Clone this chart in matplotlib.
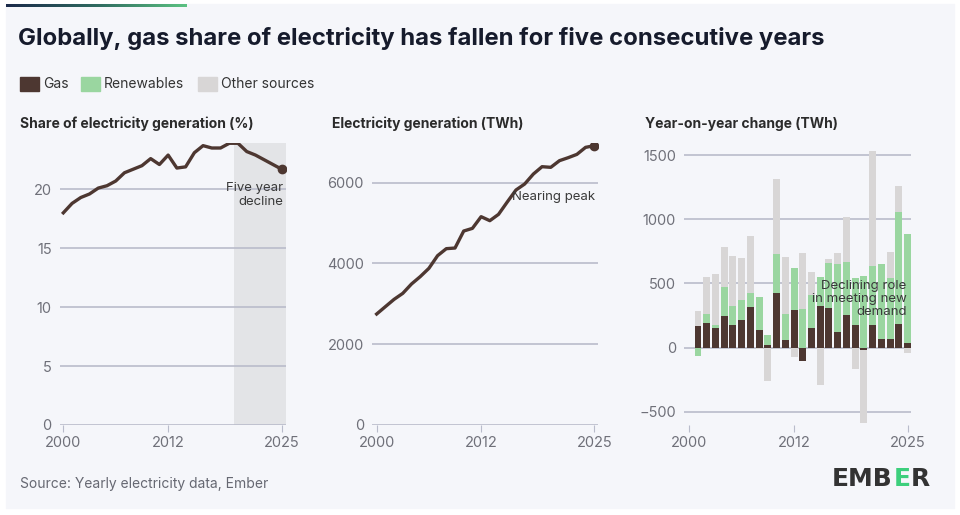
import matplotlib.pyplot as plt
from matplotlib.patches import Rectangle
from matplotlib.colors import LinearSegmentedColormap
import numpy as np

plt.rcParams['font.family'] = ['Inter', 'DejaVu Sans']

# share of electricity from gas (%), 2000-2025
share_years = list(range(2000, 2026))
gas_share = [18.0, 18.8, 19.3, 19.6, 20.1, 20.3, 20.7, 21.4, 21.7, 22.0, 22.6, 22.1,
             22.9, 21.8, 21.9, 23.1, 23.7, 23.5, 23.5, 23.9, 23.9, 23.2, 22.9, 22.5,
             22.1, 21.7]

# gas generation (TWh)
gas_twh = [2748, 2930, 3111, 3260, 3491, 3673, 3879, 4193, 4366, 4382, 4803, 4869,
           5158, 5059, 5216, 5521, 5818, 5967, 6214, 6396, 6380, 6545, 6619, 6701,
           6875, 6916]

# year-on-year change (TWh), 2001-2025
yoy_years = list(range(2001, 2026))
yoy_gas = [168, 189, 150, 246, 176, 217, 315, 140, 21, 424, 57, 295, -101, 155, 323,
           308, 119, 251, 174, -16, 173, 70, 70, 181, 39]
yoy_renew = [-65, 77, 26, 230, 150, 153, 109, 258, 80, 308, 204, 323, 300, 259, 228,
             349, 530, 414, 370, 560, 461, 584, 471, 879, 845]
yoy_other = [117, 282, 401, 308, 390, 331, 447, -8, -259, 584, 445, -75, 440, 178, -292,
             36, 88, 354, -163, -574, 897, 0, 204, 202, -41]

xticks = [2000, 2012, 2025]

GAS = '#4d3731'
RENEW = '#9ad6a0'
OTHER = '#d8d6d6'
BG = '#f5f6fa'
GRID = '#b9bccb'
TICK = '#6f7079'
DARK = '#161b2c'

W, H = 960, 515
fig = plt.figure(figsize=(W / 100, H / 100), dpi=100)
fig.patch.set_facecolor('white')

# card background and top accent bar
fig.patches.append(Rectangle((6 / W, 1 - 508 / H), 948 / W, 504 / H,
                             transform=fig.transFigure, color=BG, zorder=-10))
grad = np.linspace(0, 1, 256).reshape(1, -1)
ax_bar = fig.add_axes([6 / W, 1 - 7.5 / H, 181 / W, 3.5 / H])
cmap = LinearSegmentedColormap.from_list('ember', ['#1b2a4a', '#2f6a60', '#5cc282'])
ax_bar.imshow(grad, aspect='auto', cmap=cmap)
ax_bar.axis('off')


def px_axes(left, top, right, bottom):
    return fig.add_axes([left / W, 1 - bottom / H, (right - left) / W, (bottom - top) / H])


def style(ax, yticks):
    ax.set_facecolor('none')
    for s in ax.spines.values():
        s.set_visible(False)
    ax.set_yticks(yticks)
    ax.set_xticks(xticks)
    ax.yaxis.grid(True, color=GRID, lw=1.2)
    ax.set_axisbelow(True)
    ax.tick_params(axis='y', length=0, labelsize=10.5, labelcolor=TICK, pad=6)
    ax.tick_params(axis='x', length=5, color=GRID, labelsize=10.5, labelcolor=TICK, pad=3)


# panel 1: share
ax1 = px_axes(60, 142.7, 285.7, 425)
style(ax1, [0, 5, 10, 15, 20])
ax1.set_xlim(1999.62, 2025.46)
ax1.set_ylim(0, 23.95)
ax1.axvspan(2019.5, 2025.46, color='#e3e4e7', zorder=0, lw=0)
ax1.plot(share_years, gas_share, color=GAS, lw=2.4, zorder=3)
ax1.plot(share_years[-1], gas_share[-1], 'o', color=GAS, ms=6, zorder=4)
ax1.text(2025.2, 19.5, 'Five year\ndecline', ha='right', va='center', fontsize=9.5,
         color='#3a3a3a', linespacing=1.2, zorder=5)

# panel 2: generation
ax2 = px_axes(372.3, 142.7, 598.3, 425)
style(ax2, [0, 2000, 4000, 6000])
ax2.set_xlim(1999.5, 2025.46)
ax2.set_ylim(0, 6990)
ax2.plot(share_years, gas_twh, color=GAS, lw=2.4, zorder=3)
ax2.plot(share_years[-1], gas_twh[-1], 'o', color=GAS, ms=6, zorder=4)
ax2.text(2015.6, 5640, 'Nearing peak', ha='left', va='center', fontsize=9.5,
         color='#3a3a3a', zorder=5)

# panel 3: year-on-year change, stacked with positives up, negatives down
ax3 = px_axes(684.3, 142.7, 911, 425)
style(ax3, [-500, 0, 500, 1000, 1500])
ax3.set_xlim(1999.43, 2025.4)
ax3.set_ylim(-602, 1596)
pos_base = np.zeros(len(yoy_years))
neg_base = np.zeros(len(yoy_years))
for vals, col in [(yoy_gas, GAS), (yoy_renew, RENEW), (yoy_other, OTHER)]:
    v = np.array(vals, dtype=float)
    bottoms = np.where(v >= 0, pos_base, neg_base)
    ax3.bar(yoy_years, v, bottom=bottoms, width=0.8, color=col, lw=0, zorder=2)
    pos_base = pos_base + np.where(v >= 0, v, 0)
    neg_base = neg_base + np.where(v < 0, v, 0)
ax3.text(2024.9, 380, 'Declining role\nin meeting new\ndemand', ha='right', va='center',
         fontsize=9.5, color='#3a3a3a', linespacing=1.1, zorder=5)

# titles and legend
fig.text(18 / W, 1 - 38 / H, 'Globally, gas share of electricity has fallen for five consecutive years',
         fontsize=17.2, fontweight='bold', color=DARK, va='center', ha='left')
lx = [20, 81, 198]
labels = ['Gas', 'Renewables', 'Other sources']
cols = [GAS, RENEW, OTHER]
for x, lab, c in zip(lx, labels, cols):
    fig.patches.append(Rectangle((x / W, 1 - 90.5 / H), 19 / W, 13 / H,
                                 transform=fig.transFigure, color=c))
    fig.text((x + 23) / W, 1 - 84 / H, lab, fontsize=10, color='#333333', va='center')

sub = [(20, 'Share of electricity generation (%)'),
       (332, 'Electricity generation (TWh)'),
       (645, 'Year-on-year change (TWh)')]
for x, t in sub:
    fig.text(x / W, 1 - 124 / H, t, fontsize=10, fontweight='bold', color='#2b2b2b', va='center')

fig.text(20 / W, 1 - 484 / H, 'Source: Yearly electricity data, Ember', fontsize=10,
         color='#666872', va='center')

# EMBER wordmark
parts = [('EMB', '#333333'), ('E', '#3ccf7c'), ('R', '#333333')]
x = 832
for s, c in parts:
    t = fig.text(x / W, 1 - 479 / H, s, fontsize=18, fontweight='bold', color=c,
                 va='center', ha='left', family='DejaVu Sans')
    fig.canvas.draw()
    bb = t.get_window_extent()
    x = bb.x1 + 0.5

fig.savefig('out.png', dpi=100, facecolor=fig.get_facecolor())
